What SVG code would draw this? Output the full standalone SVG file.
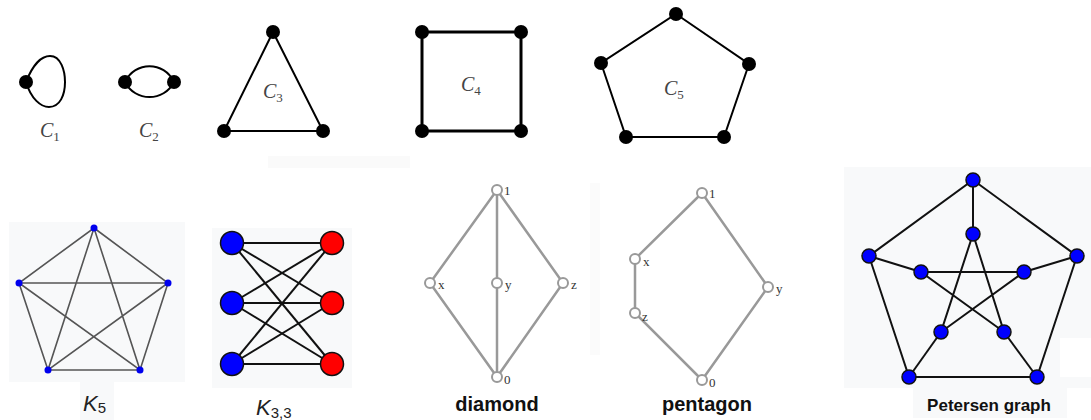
<svg xmlns="http://www.w3.org/2000/svg" width="1091" height="420" viewBox="0 0 1091 420">
  <style>
    .cyc { fill: none; stroke: #000; stroke-width: 2; }
    .cyc4 { fill: none; stroke: #000; stroke-width: 3; }
    .dot { fill: #000; }
    .cl { font-family: "Liberation Serif", serif; font-style: italic; font-size: 20px; fill: #444; }
    .cs { font-family: "Liberation Serif", serif; font-style: normal; font-size: 13px; fill: #444; }
    .panel { fill: #f8f9fa; }
    .k5e { stroke: #555; stroke-width: 1.6; fill: none; }
    .k5n { fill: #0000ee; }
    .bip { stroke: #111; stroke-width: 2; fill: none; }
    .nb { fill: #0000ff; stroke: #111; stroke-width: 1.5; }
    .nr { fill: #ff0000; stroke: #111; stroke-width: 1.5; }
    .kl { font-family: "Liberation Sans", sans-serif; font-style: italic; font-size: 22px; fill: #222; }
    .ks { font-family: "Liberation Sans", sans-serif; font-style: normal; font-size: 15px; fill: #222; }
    .lat { stroke: #999; stroke-width: 2.5; fill: none; }
    .ln { fill: #fff; stroke: #999; stroke-width: 2; }
    .lt { font-family: "Liberation Serif", serif; font-size: 13px; fill: #333; }
    .title { font-family: "Liberation Sans", sans-serif; font-weight: bold; font-size: 20px; fill: #111; text-anchor: middle; }
    .pe { stroke: #111; stroke-width: 2; fill: none; }
    .pn { fill: #0000ff; stroke: #111; stroke-width: 1.5; }
  </style>

  <!-- faint backdrop panels -->
  <rect x="268" y="156" width="142" height="12" fill="#fafafa"/>
  <rect x="590" y="183" width="10" height="172" fill="#fbfbfb"/>
  <rect class="panel" x="9" y="222" width="176" height="160"/>
  <rect class="panel" x="80" y="382" width="34" height="38"/>
  <rect class="panel" x="212" y="228" width="140" height="160"/>
  <rect class="panel" x="844" y="167" width="247" height="221"/>
  <rect fill="#ffffff" x="1060" y="338" width="31" height="39"/>
  <rect class="panel" x="913" y="388" width="154" height="30"/>

  <!-- C1: single vertex with a loop -->
  <g id="C1">
    <path class="cyc" d="M26,82 C33,64 42,56 50,56 C61,56 65,71 65,82 C65,95 60,107 49,107 C41,107 31,99 26,82 Z"/>
    <circle class="dot" cx="26" cy="82" r="7"/>
    <text class="cl" x="40" y="137">C<tspan class="cs" dy="4">1</tspan></text>
  </g>

  <!-- C2: two vertices joined by two edges -->
  <g id="C2">
    <path class="cyc" d="M125,82 C135,61 164,61 174,82"/>
    <path class="cyc" d="M125,82 C135,102 164,102 174,82"/>
    <circle class="dot" cx="125" cy="82" r="7"/>
    <circle class="dot" cx="174" cy="82" r="7"/>
    <text class="cl" x="139" y="137">C<tspan class="cs" dy="4">2</tspan></text>
  </g>

  <!-- C3: triangle -->
  <g id="C3">
    <polygon class="cyc" points="273,32 224,131 323,131"/>
    <circle class="dot" cx="273" cy="32" r="7"/>
    <circle class="dot" cx="224" cy="131" r="7"/>
    <circle class="dot" cx="323" cy="131" r="7"/>
    <text class="cl" x="263" y="98">C<tspan class="cs" dy="4">3</tspan></text>
  </g>

  <!-- C4: square -->
  <g id="C4">
    <polygon class="cyc4" points="422,32 521,32 521,131 422,131"/>
    <circle class="dot" cx="422" cy="32" r="7"/>
    <circle class="dot" cx="521" cy="32" r="7"/>
    <circle class="dot" cx="422" cy="131" r="7"/>
    <circle class="dot" cx="521" cy="131" r="7"/>
    <text class="cl" x="461" y="91">C<tspan class="cs" dy="4">4</tspan></text>
  </g>

  <!-- C5: pentagon -->
  <g id="C5">
    <polygon class="cyc" points="676,14 749,64 724,137 626,137 601,63"/>
    <circle class="dot" cx="676" cy="14" r="7"/>
    <circle class="dot" cx="749" cy="64" r="7"/>
    <circle class="dot" cx="724" cy="137" r="7"/>
    <circle class="dot" cx="626" cy="137" r="7"/>
    <circle class="dot" cx="601" cy="63" r="7"/>
    <text class="cl" x="664" y="95">C<tspan class="cs" dy="4">5</tspan></text>
  </g>

  <!-- K5: complete graph on five vertices -->
  <g id="K5">
    <g class="k5e">
      <polygon points="94,228 168,283 140,370 48,370 19,283"/>
      <polygon points="94,228 140,370 19,283 168,283 48,370"/>
    </g>
    <circle class="k5n" cx="94" cy="228" r="3.5"/>
    <circle class="k5n" cx="168" cy="283" r="3.5"/>
    <circle class="k5n" cx="140" cy="370" r="3.5"/>
    <circle class="k5n" cx="48" cy="370" r="3.5"/>
    <circle class="k5n" cx="19" cy="283" r="3.5"/>
    <text class="kl" x="83" y="411">K<tspan class="ks" dy="2">5</tspan></text>
  </g>

  <!-- K3,3: complete bipartite graph -->
  <g id="K33">
    <g class="bip">
      <line x1="232" y1="243" x2="332" y2="243"/>
      <line x1="232" y1="243" x2="332" y2="303"/>
      <line x1="232" y1="243" x2="332" y2="364"/>
      <line x1="232" y1="303" x2="332" y2="243"/>
      <line x1="232" y1="303" x2="332" y2="303"/>
      <line x1="232" y1="303" x2="332" y2="364"/>
      <line x1="232" y1="364" x2="332" y2="243"/>
      <line x1="232" y1="364" x2="332" y2="303"/>
      <line x1="232" y1="364" x2="332" y2="364"/>
    </g>
    <circle class="nb" cx="232" cy="243" r="11.5"/>
    <circle class="nb" cx="232" cy="303" r="11.5"/>
    <circle class="nb" cx="232" cy="364" r="11.5"/>
    <circle class="nr" cx="332" cy="243" r="11.5"/>
    <circle class="nr" cx="332" cy="303" r="11.5"/>
    <circle class="nr" cx="332" cy="364" r="11.5"/>
    <text class="kl" x="256" y="415">K<tspan class="ks" dy="3">3,3</tspan></text>
  </g>

  <!-- diamond lattice M3 -->
  <g id="diamond">
    <g class="lat">
      <polyline points="497,190 430,283 497,377 563,283 497,190"/>
      <line x1="497" y1="190" x2="497" y2="377"/>
    </g>
    <circle class="ln" cx="497" cy="190" r="5"/>
    <circle class="ln" cx="430" cy="283" r="5"/>
    <circle class="ln" cx="497" cy="283" r="5"/>
    <circle class="ln" cx="563" cy="283" r="5"/>
    <circle class="ln" cx="497" cy="377" r="5"/>
    <text class="lt" x="504" y="195">1</text>
    <text class="lt" x="438" y="289">x</text>
    <text class="lt" x="505" y="289">y</text>
    <text class="lt" x="571" y="289">z</text>
    <text class="lt" x="504" y="384">0</text>
    <text class="title" x="497" y="411">diamond</text>
  </g>

  <!-- pentagon lattice N5 -->
  <g id="pentagon">
    <polygon class="lat" points="702,193 768,287 702,380 635,313 635,259"/>
    <circle class="ln" cx="702" cy="193" r="5"/>
    <circle class="ln" cx="635" cy="259" r="5"/>
    <circle class="ln" cx="635" cy="313" r="5"/>
    <circle class="ln" cx="768" cy="287" r="5"/>
    <circle class="ln" cx="702" cy="380" r="5"/>
    <text class="lt" x="709" y="198">1</text>
    <text class="lt" x="643" y="266">x</text>
    <text class="lt" x="642" y="321">z</text>
    <text class="lt" x="776" y="293">y</text>
    <text class="lt" x="709" y="387">0</text>
    <text class="title" x="707" y="411">pentagon</text>
  </g>

  <!-- Petersen graph -->
  <g id="petersen">
    <g class="pe">
      <polygon points="973,180 1077,256 1037,377 909,377 869,256"/>
      <line x1="973" y1="180" x2="973" y2="234"/>
      <line x1="1077" y1="256" x2="1024" y2="272"/>
      <line x1="1037" y1="377" x2="1004" y2="332"/>
      <line x1="909" y1="377" x2="941" y2="332"/>
      <line x1="869" y1="256" x2="921" y2="272"/>
      <polygon points="973,234 1004,332 921,272 1024,272 941,332"/>
    </g>
    <circle class="pn" cx="973" cy="180" r="7"/>
    <circle class="pn" cx="1077" cy="256" r="7"/>
    <circle class="pn" cx="1037" cy="377" r="7"/>
    <circle class="pn" cx="909" cy="377" r="7"/>
    <circle class="pn" cx="869" cy="256" r="7"/>
    <circle class="pn" cx="973" cy="234" r="7"/>
    <circle class="pn" cx="1024" cy="272" r="7"/>
    <circle class="pn" cx="1004" cy="332" r="7"/>
    <circle class="pn" cx="941" cy="332" r="7"/>
    <circle class="pn" cx="921" cy="272" r="7"/>
    <text x="989" y="411" font-family="'Liberation Sans', sans-serif" font-weight="bold" font-size="17" fill="#111" text-anchor="middle">Petersen graph</text>
  </g>
</svg>
